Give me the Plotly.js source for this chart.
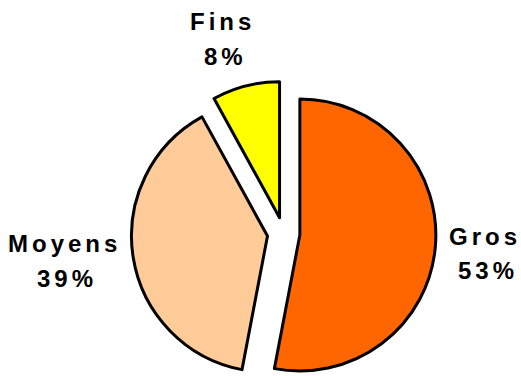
<!DOCTYPE html>
<html>
<head>
<meta charset="utf-8">
<script src="https://cdn.plot.ly/plotly-3.0.1.min.js"></script>
<style>
html, body { margin: 0; padding: 0; overflow: hidden; background: #fff; }
#chart { width: 521px; height: 467px; }
.annotation-text { letter-spacing: 4px; }
</style>
</head>
<body>
<div id="chart"></div>
<script>
// Data
var categories = ["Gros", "Moyens", "Fins"];
var values = [53, 39, 8];
var colors = ["#FF6600", "#FFCC99", "#FFFF00"];

var W = 521, H = 467;
var total = values.reduce(function (a, b) { return a + b; }, 0);
var pct = values.map(function (v) { return Math.round(v / total * 100) + "%"; });

// Label placement (layout only): [x center px, label cap-center y px, percent cap-center y px]
var labelPos = [
  [485, 236.5, 270.5],
  [64, 243.3, 278.3],
  [222, 21.7, 56.5]
];

var annotations = [];
categories.forEach(function (c, i) {
  var p = labelPos[i];
  annotations.push({
    text: c, x: p[0] / W, y: 1 - p[1] / H, xref: "paper", yref: "paper",
    xanchor: "center", yanchor: "middle", showarrow: false,
    font: { family: "Liberation Sans, Arial, sans-serif", size: 24, color: "#000", weight: "bold" }
  });
  annotations.push({
    text: pct[i], x: (p[0] + 3) / W, y: 1 - p[2] / H, xref: "paper", yref: "paper",
    xanchor: "center", yanchor: "middle", showarrow: false,
    font: { family: "Liberation Sans, Arial, sans-serif", size: 24, color: "#000", weight: "bold" }
  });
});

var trace = {
  type: "pie",
  labels: categories,
  values: values,
  sort: false,
  direction: "clockwise",
  rotation: 0,
  pull: [0.12, 0.12, 0.12],
  marker: { colors: colors, line: { color: "#000", width: 3 } },
  textinfo: "none",
  hoverinfo: "label+percent",
  domain: { x: [0.252, 0.8367], y: [0, 1] }
};

var layout = {
  width: W, height: H,
  margin: { l: 0, r: 0, t: 0, b: 0 },
  paper_bgcolor: "#fff",
  plot_bgcolor: "#fff",
  showlegend: false,
  annotations: annotations
};

Plotly.newPlot("chart", [trace], layout, { displayModeBar: false, staticPlot: true });
</script>
</body>
</html>
